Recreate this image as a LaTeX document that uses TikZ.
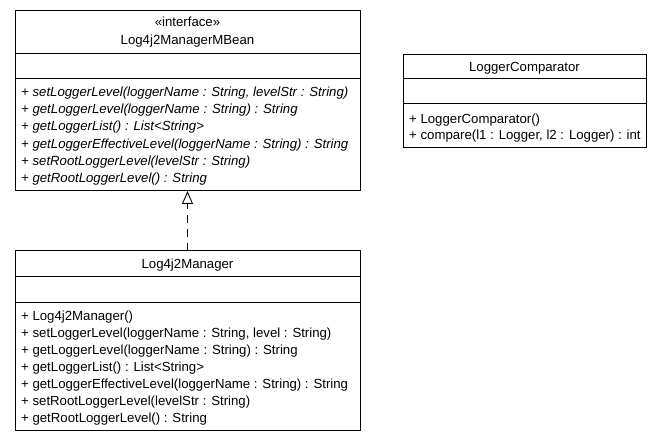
\documentclass[tikz,border=0pt]{standalone}
\usepackage{fontspec}
\setmainfont{Liberation Sans}
\usetikzlibrary{arrows.meta}

\tikzset{
  umlbox/.style={draw, line width=1pt, anchor=north west, inner sep=0pt, outer sep=0pt},
  divider/.style={line width=1pt},
  member/.style={anchor=base west, inner sep=0pt, font=\fontsize{13.2}{15}\selectfont},
  heading/.style={anchor=base, inner sep=0pt, font=\fontsize{13.2}{15}\selectfont},
  realizes/.style={line width=0.9pt, dash pattern=on 8pt off 6pt, -{Triangle[open,length=13pt,width=11pt]}}
}

\begin{document}
\begin{tikzpicture}[x=1pt,y=-1pt]
    \useasboundingbox (0,0) rectangle (665,443);

    % interface
    \node[umlbox, minimum width=345pt, minimum height=180pt] (mbean) at (15,11) {};
    \draw[divider] (15,54) -- (360,54) (15,79) -- (360,79);
    \node[heading] (mbeanstereo) at (187.5,26.5) {«interface»};
    \node[heading] (mbeantitle) at (187.5,44.5) {Log4j2ManagerMBean};
    \foreach \op [count=\i from 0] in {
        {+ setLoggerLevel(loggerName : String, levelStr : String)},
        {+ getLoggerLevel(loggerName : String) : String},
        {+ getLoggerList() : List<String>},
        {+ getLoggerEffectiveLevel(loggerName : String) : String},
        {+ setRootLoggerLevel(levelStr : String)},
        {+ getRootLoggerLevel() : String}}
        \node[member, font=\fontsize{13.2}{15}\selectfont\itshape] (mbeanop\i) at (21, 96.5+17.2*\i) {\op};

    % class
    \node[umlbox, minimum width=345pt, minimum height=180pt] (manager) at (15,251) {};
    \draw[divider] (15,277) -- (360,277) (15,303) -- (360,303);
    \node[heading] (managertitle) at (187.5,268.5) {Log4j2Manager};
    \foreach \op [count=\i from 0] in {
        {+ Log4j2Manager()},
        {+ setLoggerLevel(loggerName : String, level : String)},
        {+ getLoggerLevel(loggerName : String) : String},
        {+ getLoggerList() : List<String>},
        {+ getLoggerEffectiveLevel(loggerName : String) : String},
        {+ setRootLoggerLevel(levelStr : String)},
        {+ getRootLoggerLevel() : String}}
        \node[member] (managerop\i) at (21, 320.5+17*\i) {\op};

    % comparator
    \node[umlbox, minimum width=243pt, minimum height=93pt] (comparator) at (403,55) {};
    \draw[divider] (403,79) -- (646,79) (403,104) -- (646,104);
    \node[heading] (comparatortitle) at (524.5,71.5) {LoggerComparator};
    \node[member] (comparatorop0) at (409,123.5) {+ LoggerComparator()};
    \node[member] (comparatorop1) at (409,139.5) {+ compare(l1 : Logger, l2 : Logger) : int};

    \draw[realizes] (manager.north) -- (mbean.south);
\end{tikzpicture}
\end{document}
